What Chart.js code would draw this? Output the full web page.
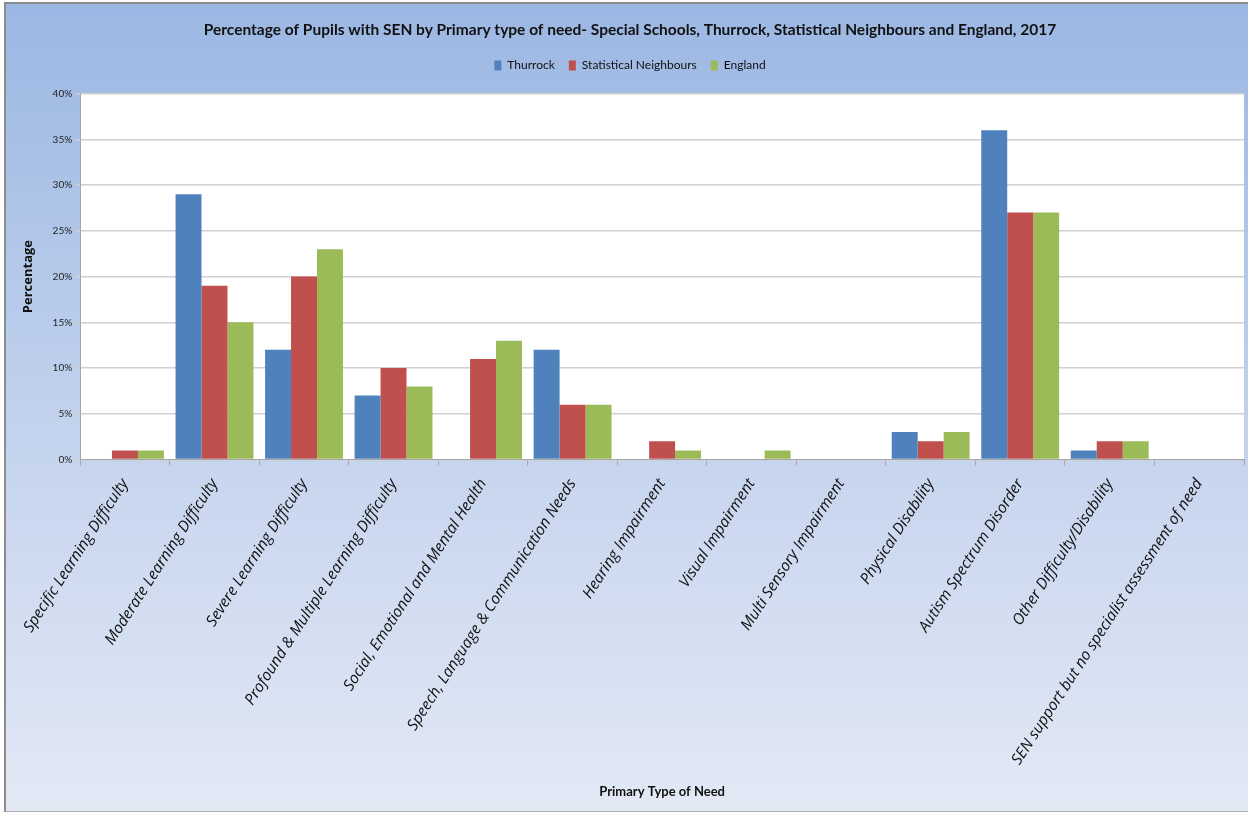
<!DOCTYPE html>
<html>
<head>
<meta charset="utf-8">
<script src="https://cdn.jsdelivr.net/npm/chart.js@4.4.0/dist/chart.umd.min.js"></script>
<style>
  html, body { margin: 0; padding: 0; background: #ffffff; }
  #frame {
    position: absolute; left: 4px; top: 2px; width: 1244px; height: 810px;
    border-left: 2px solid #8c8c8c; border-top: 2px solid #8c8c8c; border-bottom: 1px solid #b0b0b0;
    box-sizing: border-box;
    background: linear-gradient(to bottom, #9bb7e3 0%, #c5d4ee 55%, #e3e9f5 100%);
  }
  canvas { position: absolute; left: 0; top: 0; }
</style>
</head>
<body>
<div id="frame"></div>
<canvas id="senChart" width="1248" height="814"></canvas>
<script>
// categories + series (percent)
const needTypes = [
  'Specific Learning Difficulty',
  'Moderate Learning Difficulty',
  'Severe Learning Difficulty',
  'Profound & Multiple Learning Difficulty',
  'Social, Emotional and Mental Health',
  'Speech, Language & Communication Needs',
  'Hearing Impairment',
  'Visual Impairment',
  'Multi Sensory Impairment',
  'Physical Disability',
  'Autism Spectrum Disorder',
  'Other Difficulty/Disability',
  'SEN support but no specialist assessment of need'
];
const thurrock   = [0, 29, 12, 7, 0, 12, 0, 0, 0, 3, 36, 1, 0];
const statNeigh  = [1, 19, 20, 10, 11, 6, 2, 0, 0, 2, 27, 2, 0];
const england    = [1, 15, 23, 8, 13, 6, 1, 1, 0, 3, 27, 2, 0];
const yTicks = [0, 5, 10, 15, 20, 25, 30, 35, 40];

// white plot area
const plotBg = {
  id: 'plotBg',
  beforeDraw(chart) {
    const a = chart.chartArea, c = chart.ctx;
    c.save();
    c.fillStyle = '#ffffff';
    c.fillRect(a.left, a.top, a.right - a.left, a.bottom - a.top);
    c.restore();
  }
};

// a bit more room under the legend
const legendGap = {
  id: 'legendGap',
  beforeInit(chart) {
    const fit = chart.legend.fit;
    chart.legend.fit = function () {
      fit.bind(chart.legend)();
      this.height += 12;
    };
  }
};

const ctx = document.getElementById('senChart').getContext('2d');
const senChart = new Chart(ctx, {
  type: 'bar',
  data: {
    labels: needTypes,
    datasets: [
      { label: 'Thurrock', data: thurrock, backgroundColor: '#4f81bd' },
      { label: 'Statistical Neighbours', data: statNeigh, backgroundColor: '#c0504d' },
      { label: 'England', data: england, backgroundColor: '#9bbb59' }
    ]
  },
  options: {
    responsive: false,
    animation: false,
    layout: { padding: { left: 16, right: 4, top: 11, bottom: 14 } },
    datasets: { bar: { categoryPercentage: 0.87, barPercentage: 1.0 } },
    plugins: {
      title: {
        display: true,
        text: 'Percentage of Pupils with SEN by Primary type of need- Special Schools, Thurrock, Statistical Neighbours and England, 2017',
        color: '#111',
        font: { family: 'Lato', size: 15.5, weight: 'bold' },
        padding: { top: 10, bottom: 6 }
      },
      legend: {
        display: true,
        labels: {
          color: '#111',
          font: { family: 'Lato', size: 12 },
          boxWidth: 7, boxHeight: 10, padding: 14
        }
      },
      tooltip: { enabled: false }
    },
    scales: {
      x: {
        offset: true,
        grid: { offset: true, drawOnChartArea: false, drawTicks: true, tickLength: 6, color: '#a6a6a6' },
        border: { color: '#a6a6a6' },
        ticks: {
          color: '#111',
          font: { family: 'Open Sans', size: 15.5, style: 'italic' },
          minRotation: 57, maxRotation: 57, autoSkip: false, padding: 10
        },
        title: {
          display: true, text: 'Primary Type of Need', color: '#111',
          font: { family: 'Lato', size: 13, weight: 'bold' },
          padding: { top: 6, bottom: 0 }
        }
      },
      y: {
        min: 0, max: 40,
        afterBuildTicks(axis) { axis.ticks = yTicks.map(v => ({ value: v })); },
        grid: { color: '#d0d0d0', lineWidth: 1.5, tickLength: 5 },
        border: { color: '#a6a6a6' },
        ticks: {
          color: '#222',
          font: { family: 'Lato', size: 10 },
          callback: v => v + '%'
        },
        title: {
          display: true, text: 'Percentage', color: '#111',
          font: { family: 'Open Sans', size: 13, weight: 'bold' },
          padding: { bottom: 14 }
        }
      }
    }
  },
  plugins: [plotBg, legendGap]
});
</script>
</body>
</html>
